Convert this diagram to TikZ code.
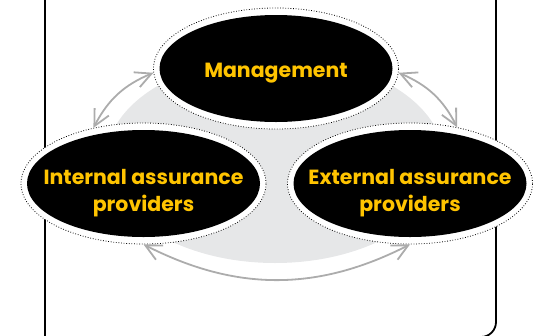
\documentclass[tikz,border=0pt]{standalone}
\usepackage{fontspec}
\setmainfont{Poppins}
\usepackage{xcolor}
\usetikzlibrary{shapes.geometric,arrows.meta}
\definecolor{rolegold}{RGB}{255,196,0}
\definecolor{shadegray}{RGB}{230,231,232}
\definecolor{arrowgray}{RGB}{172,172,172}
% first baseline #1 below the centre; the lines do not widen the ellipse
\newcommand{\rolelabel}[2][8.5pt]{\raisebox{-#1}[0pt][0pt]{\makebox[0pt]{\begin{tabular}[t]{@{}c@{}}#2\end{tabular}}}}

\begin{document}
\begin{tikzpicture}[x=1pt,y=-1pt,
  ring/.style={ellipse, draw=black, fill=white, line width=0.8pt,
    dash pattern=on 0.8pt off 1.8pt, minimum width=245pt, minimum height=121pt, inner sep=0pt},
  role/.style={ellipse, fill=black, text=rolegold, inner sep=0pt,
    minimum width=233pt, minimum height=107pt,
    font=\fontsize{20.5}{27}\selectfont\bfseries},
  link/.style={arrowgray, line width=1.8pt,
    {Straight Barb[length=16pt,width=16pt]}-{Straight Barb[length=16pt,width=16pt]}}]

% Canvas
\clip (0,0) rectangle (533,335);

% Frame
\draw[line width=1.8pt] (45,-10) -- (45,345);
\draw[line width=1.8pt, rounded corners=15pt] (496,-10) -- (496,337) -- (440,337);

% Shaded backdrop
\fill[shadegray] (275,160) ellipse [x radius=169, y radius=103];

% Rings
\node[ring] (mgmt-ring) at (276,68.5) {};
\node[ring] (int-ring) at (143.5,183.5) {};
\node[ring] (ext-ring) at (410,183.5) {};

% Arrows
\draw[link] (mgmt-ring.182) to[bend right=20] (int-ring.132);
\draw[link] (mgmt-ring.358) to[bend left=20] (ext-ring.50);
\draw[link] (int-ring.south) to[bend right=27] (ext-ring.south);

% Roles
\node[role] (mgmt) at (276,68.5) {\rolelabel{Management}};
\node[role] (int) at (143.5,183.5) {\rolelabel[0.5pt]{Internal assurance\\providers}};
\node[role] (ext) at (410,183.5) {\rolelabel[0.5pt]{External assurance\\providers}};

\end{tikzpicture}
\end{document}
